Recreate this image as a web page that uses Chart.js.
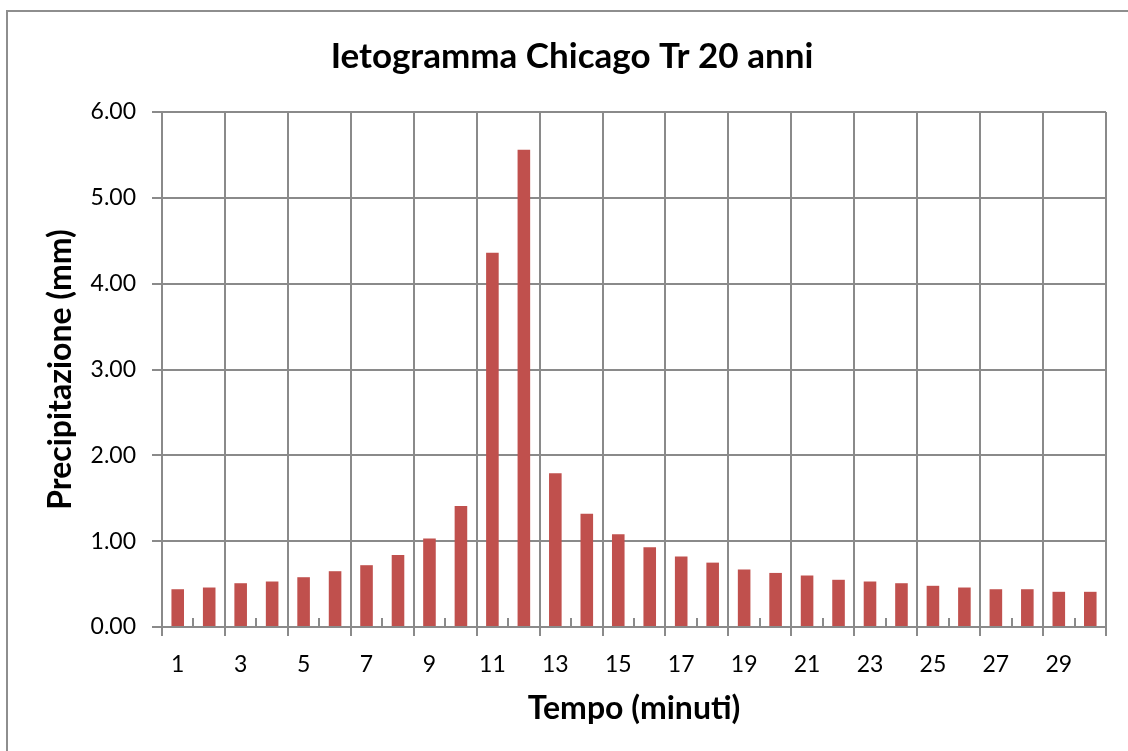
<!DOCTYPE html>
<html>
<head>
<meta charset="utf-8">
<script src="https://cdn.jsdelivr.net/npm/chart.js@4/dist/chart.umd.min.js"></script>
<style>
  html, body { margin: 0; padding: 0; background: #fff; overflow: hidden; width: 1128px; height: 751px; }
  #box { position: absolute; left: 6px; top: 10px; width: 1128px; height: 760px; border: 2px solid #8e8e8e; background: #fff; }
</style>
</head>
<body>
<div id="box"><canvas id="c"></canvas></div>
<script>
const categories = ['1','2','3','4','5','6','7','8','9','10','11','12','13','14','15','16','17','18','19','20','21','22','23','24','25','26','27','28','29','30'];
const precipitazione = [0.44,0.46,0.51,0.53,0.58,0.65,0.72,0.84,1.03,1.41,4.36,5.56,1.79,1.32,1.08,0.93,0.82,0.75,0.67,0.63,0.60,0.55,0.53,0.51,0.48,0.46,0.44,0.44,0.41,0.41];
const yTicks = [0,1,2,3,4,5,6];
const titleText = 'Ietogramma Chicago Tr 20 anni';
const xTitle = 'Tempo (minuti)';
const yTitle = 'Precipitazione (mm)';

const GRID = '#8a8a8a';
const FONT = 'Lato';

const evenLine = (ctx) => (ctx.index === undefined || ctx.index % 2 === 0) ? GRID : 'rgba(0,0,0,0)';

const minorTicks = {
  id: 'minorTicks',
  afterDatasetsDraw(chart) {
    const xs = chart.scales.x;
    const ctx = chart.ctx;
    const bottom = chart.chartArea.bottom;
    ctx.save();
    ctx.strokeStyle = GRID;
    ctx.lineWidth = 2;
    for (let i = 1; i < categories.length; i += 2) {
      const x = Math.round((xs.getPixelForValue(i - 1) + xs.getPixelForValue(i)) / 2);
      ctx.beginPath();
      ctx.moveTo(x, bottom);
      ctx.lineTo(x, bottom - 9);
      ctx.stroke();
    }
    ctx.restore();
  }
};

new Chart(document.getElementById('c'), {
  type: 'bar',
  data: {
    labels: categories,
    datasets: [{
      data: precipitazione,
      backgroundColor: '#C0504D',
      borderWidth: 0,
      barPercentage: 0.4,
      categoryPercentage: 1.0
    }]
  },
  options: {
    responsive: true,
    maintainAspectRatio: false,
    animation: false,
    layout: { padding: 0 },
    plugins: {
      legend: { display: false },
      tooltip: { enabled: false },
      title: {
        display: true,
        text: titleText,
        color: '#000',
        font: { family: FONT, size: 35, weight: 'bold' },
        padding: { top: 24, bottom: 34 }
      }
    },
    scales: {
      x: {
        offset: true,
        grid: {
          offset: true,
          color: evenLine,
          tickColor: evenLine,
          lineWidth: 2,
          tickLength: 9,
          drawTicks: true
        },
        border: { display: true, color: GRID, width: 2 },
        ticks: {
          autoSkip: false,
          maxRotation: 0,
          color: '#000',
          font: { family: FONT, size: 23 },
          padding: 15,
          callback: function(v, i) { return i % 2 === 0 ? categories[i] : ''; }
        },
        title: {
          display: true,
          text: xTitle,
          color: '#000',
          font: { family: FONT, size: 32, weight: 'bold' },
          padding: { top: 0, bottom: 44 }
        },
        afterFit(scale) { scale.height = 145; }
      },
      y: {
        min: 0,
        max: 6,
        afterBuildTicks(scale) { scale.ticks = yTicks.map(v => ({ value: v })); },
        grid: { color: GRID, lineWidth: 2, tickLength: 10, tickColor: GRID },
        border: { display: true, color: GRID, width: 2 },
        ticks: {
          color: '#000',
          font: { family: FONT, size: 23 },
          padding: 16,
          callback: function(v) { return Number(v).toFixed(2); }
        },
        title: {
          display: true,
          text: yTitle,
          color: '#000',
          font: { family: FONT, size: 32, weight: 'bold' },
          padding: { top: 33, bottom: 0 }
        },
        afterFit(scale) { scale.width = 154; }
      },
      spacer: {
        type: 'linear',
        position: 'right',
        display: true,
        min: 0,
        max: 6,
        grid: { display: false, drawTicks: false },
        border: { display: false },
        ticks: { display: false },
        afterFit(scale) { scale.width = 30; }
      }
    }
  },
  plugins: [minorTicks]
});
</script>
</body>
</html>
